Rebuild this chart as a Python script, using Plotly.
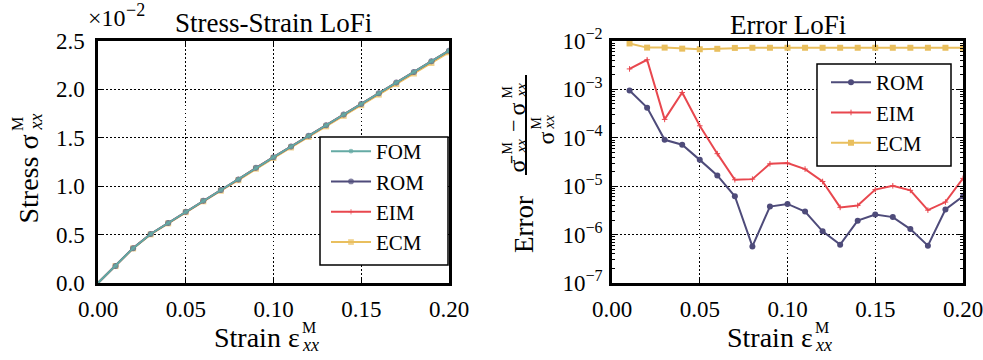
import plotly.graph_objects as go

W, H = 983, 360

# ---------------- data ----------------
strain = [0.00, 0.01, 0.02, 0.03, 0.04, 0.05, 0.06, 0.07, 0.08, 0.09, 0.10,
          0.11, 0.12, 0.13, 0.14, 0.15, 0.16, 0.17, 0.18, 0.19, 0.20]
# stress in units of 1e-2
stress_fom = [0.0, 0.176, 0.360, 0.506, 0.620, 0.737, 0.850, 0.960, 1.070, 1.190, 1.300,
              1.410, 1.520, 1.630, 1.740, 1.850, 1.960, 2.070, 2.180, 2.290, 2.400]
stress_rom = [0.0, 0.176, 0.360, 0.506, 0.620, 0.737, 0.850, 0.960, 1.070, 1.190, 1.300,
              1.410, 1.520, 1.630, 1.740, 1.850, 1.960, 2.070, 2.180, 2.290, 2.400]
stress_eim = [0.0, 0.176, 0.361, 0.506, 0.621, 0.737, 0.850, 0.960, 1.070, 1.190, 1.300,
              1.410, 1.520, 1.630, 1.740, 1.850, 1.960, 2.070, 2.180, 2.290, 2.400]
stress_ecm = [0.0, 0.175, 0.357, 0.502, 0.616, 0.732, 0.844, 0.953, 1.062, 1.181, 1.291,
              1.400, 1.509, 1.618, 1.727, 1.837, 1.946, 2.055, 2.164, 2.273, 2.383]

err_strain = [0.01, 0.02, 0.03, 0.04, 0.05, 0.06, 0.07, 0.08, 0.09, 0.10,
              0.11, 0.12, 0.13, 0.14, 0.15, 0.16, 0.17, 0.18, 0.19, 0.20]
err_rom = [9.5e-4, 4.2e-4, 9.1e-5, 7.2e-5, 3.5e-5, 1.67e-5, 6.2e-6, 5.7e-7, 3.8e-6, 4.3e-6,
           3.0e-6, 1.17e-6, 6.2e-7, 1.94e-6, 2.6e-6, 2.3e-6, 1.3e-6, 5.9e-7, 3.3e-6, 6.2e-6]
err_eim = [2.65e-3, 4.1e-3, 2.4e-4, 8.6e-4, 1.77e-4, 4.7e-5, 1.36e-5, 1.4e-5, 2.9e-5, 3.0e-5,
           2.26e-5, 1.25e-5, 3.65e-6, 4.0e-6, 8.5e-6, 1.02e-5, 8.2e-6, 3.2e-6, 4.7e-6, 1.45e-5]
err_ecm = [8.9e-3, 7.3e-3, 7.3e-3, 6.95e-3, 6.75e-3, 6.9e-3, 7.2e-3, 7.25e-3, 7.25e-3, 7.25e-3,
           7.25e-3, 7.25e-3, 7.25e-3, 7.25e-3, 7.25e-3, 7.25e-3, 7.25e-3, 7.25e-3, 7.25e-3, 7.25e-3]

x_ticks = [0.00, 0.05, 0.10, 0.15, 0.20]
y_ticks_left = [0.0, 0.5, 1.0, 1.5, 2.0, 2.5]
y_ticks_right = [1e-7, 1e-6, 1e-5, 1e-4, 1e-3, 1e-2]
y_ticks_right_text = ["10<sup>−7</sup>", "10<sup>−6</sup>", "10<sup>−5</sup>",
                      "10<sup>−4</sup>", "10<sup>−3</sup>", "10<sup>−2</sup>"]

C_FOM = "#65aaa4"
C_ROM = "#4e4b7a"
C_EIM = "#e8474e"
C_ECM = "#e9bf5e"

FONT = "Liberation Serif, Times New Roman, serif"

# ---------------- layout geometry (pixels) ----------------
L1, R1 = 98, 449
L2, R2 = 612, 963
TOP, BOT = 41, 283

def px(x):
    return x / W

def py(y):
    return 1 - y / H

fig = go.Figure()

# left plot traces (ECM below, FOM on top)
left_series = [
    ("ECM", stress_ecm, C_ECM, "square", 6, 4),
    ("EIM", stress_eim, C_EIM, "cross-thin", 4, 3),
    ("ROM", stress_rom, C_ROM, "circle", 6, 2),
    ("FOM", stress_fom, C_FOM, "circle", 5, 1),
]
for name, vals, col, sym, size, rank in left_series:
    sizes = [0] + [size] * (len(strain) - 1)
    fig.add_trace(go.Scatter(
        x=strain, y=vals, name=name, mode="lines+markers",
        line=dict(color=col, width=2),
        marker=dict(symbol=sym, size=sizes, color=col,
                    line=dict(color=col, width=1 if sym == "cross-thin" else 0)),
        xaxis="x", yaxis="y", legend="legend", legendrank=rank,
    ))

right_series = [
    ("ROM", err_rom, C_ROM, "circle", 6),
    ("EIM", err_eim, C_EIM, "cross-thin", 4),
    ("ECM", err_ecm, C_ECM, "square", 6),
]
for name, vals, col, sym, size in right_series:
    fig.add_trace(go.Scatter(
        x=err_strain, y=vals, name=name, mode="lines+markers",
        line=dict(color=col, width=2),
        marker=dict(symbol=sym, size=size, color=col,
                    line=dict(color=col, width=1 if sym == "cross-thin" else 0)),
        xaxis="x2", yaxis="y2", legend="legend2",
    ))

axis_common = dict(
    showline=True, linecolor="black", linewidth=2.5, mirror="ticks",
    ticks="inside", ticklen=6, tickwidth=1, tickcolor="black",
    showgrid=True, gridcolor="black", gridwidth=1, griddash="1.5px,2.5px",
    zeroline=False, automargin=False, ticklabeloverflow="allow",
    tickfont=dict(family=FONT, size=23, color="black"),
)

legend_common = dict(
    xanchor="left", yanchor="top", bgcolor="rgba(0,0,0,0)", borderwidth=0,
    font=dict(family=FONT, size=21, color="black"), tracegroupgap=0, itemwidth=40,
)

fig.update_layout(
    width=W, height=H,
    margin=dict(l=0, r=0, t=0, b=0),
    paper_bgcolor="white", plot_bgcolor="white",
    font=dict(family=FONT, color="black"),
    xaxis=dict(domain=[px(L1), px(R1)], range=[0, 0.2], tickvals=x_ticks,
               tickformat=".2f", anchor="y", ticklabelstandoff=4, **axis_common),
    yaxis=dict(domain=[py(BOT), py(TOP)], range=[0, 2.5], tickvals=y_ticks_left,
               tickformat=".1f", anchor="x", ticklabelstandoff=6, **axis_common),
    xaxis2=dict(domain=[px(L2), px(R2)], range=[0, 0.2], tickvals=x_ticks,
                tickformat=".2f", anchor="y2", ticklabelstandoff=4, **axis_common),
    yaxis2=dict(domain=[py(BOT), py(TOP)], type="log", range=[-7, -2],
                tickvals=y_ticks_right, ticktext=y_ticks_right_text,
                anchor="x2", ticklabelstandoff=2,
                minor=dict(ticks="inside", ticklen=3, tickcolor="black", dtick="D1",
                           showgrid=False),
                **axis_common),
    legend=dict(x=px(326), y=py(131), **legend_common),
    legend2=dict(x=px(826), y=py(62), **legend_common),
    showlegend=True,
)

# legend frames (drawn above the data, below the legend entries)
for x0, y0, x1, y1 in ((320, 137, 448, 265), (817, 64, 951, 166)):
    fig.add_shape(type="rect", xref="paper", yref="paper", layer="above",
                  x0=px(x0), x1=px(x1), y0=py(y1), y1=py(y0),
                  fillcolor="white", line=dict(color="black", width=1.5))

ann = []

def txt(x, y, text, size, angle=0, italic=False, xa="center", ya="middle"):
    if italic:
        text = "<i>" + text + "</i>"
    ann.append(dict(x=px(x), y=py(y), xref="paper", yref="paper", text=text,
                    showarrow=False, textangle=angle, xanchor=xa, yanchor=ya,
                    borderpad=0,
                    font=dict(family=FONT, size=size, color="black")))

# titles
txt(273, 23, "Stress-Strain LoFi", 27)
txt(788, 25, "Error LoFi", 27)
txt(87, 18, "×10", 24, xa="left")
txt(125, 10, "−2", 18, xa="left")

# x axis titles
for ex in (301, 814):
    txt(ex, 337, "Strain ε", 28, xa="right")
    txt(ex, 327, "M", 16, xa="left")
    txt(ex, 345, "xx", 18, xa="left", italic=True)

# left y title (reads bottom -> top)
txt(28, 134, "Stress σ", 28, angle=-90, ya="top")
txt(17, 132, "M", 16, angle=-90, ya="bottom")
txt(35, 132, "xx", 18, angle=-90, ya="bottom", italic=True)

# right y title
txt(524, 225, "Error", 27, angle=-90)
# numerator
txt(516, 155, "σ̄", 24, angle=-90, ya="top")
txt(507, 155, "M", 14, angle=-90, ya="bottom")
txt(520, 155, "xx", 15, angle=-90, ya="bottom", italic=True)
txt(514, 126, "−", 22, angle=-90)
txt(517, 117, "σ", 24, angle=-90, ya="bottom")
txt(507, 99, "M", 14, angle=-90, ya="bottom")
txt(520, 99, "xx", 15, angle=-90, ya="bottom", italic=True)
# denominator
txt(545, 131, "σ", 24, angle=-90, ya="top")
txt(536, 131, "M", 14, angle=-90, ya="bottom")
txt(548, 131, "xx", 15, angle=-90, ya="bottom", italic=True)

fig.update_layout(annotations=ann)
fig.add_shape(type="line", xref="paper", yref="paper",
              x0=px(526), x1=px(526), y0=py(75), y1=py(175),
              line=dict(color="black", width=2))

fig.write_html("out.html")
